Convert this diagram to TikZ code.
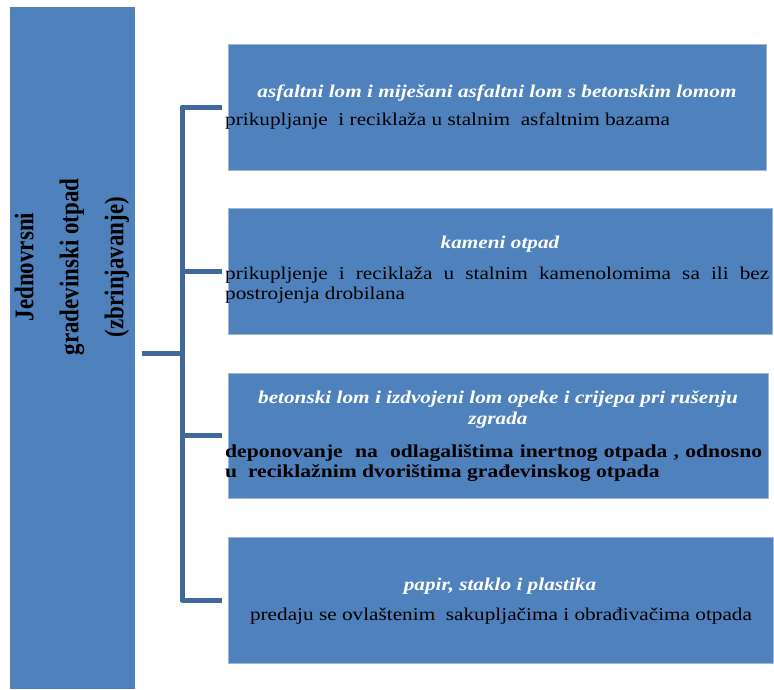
\documentclass[tikz,border=0pt]{standalone}
\usepackage{fontspec}
\setmainfont{Liberation Serif}[FakeStretch=1.18]
\newfontfamily\leftfont{Liberation Serif}[FakeStretch=0.85]
\definecolor{boxblue}{HTML}{4F81BD}
\definecolor{boxedge}{HTML}{9DB6D8}
\definecolor{brkblue}{HTML}{40689A}
\begin{document}
\begin{tikzpicture}[x=1pt,y=-1pt,
  rbox/.style={draw=boxedge, line width=0.8pt, fill=boxblue, inner sep=0pt, outer sep=0pt, anchor=north west},
  lbox/.style={fill=boxblue, inner sep=0pt, outer sep=0pt, anchor=north west},
  ttl/.style={text=white, font=\fontsize{18}{20}\selectfont\bfseries\itshape, anchor=base, inner sep=0pt},
  bdy/.style={text=black, font=\fontsize{18}{20}\selectfont, anchor=base west, inner sep=0pt},
  bdyc/.style={text=black, font=\fontsize{18}{20}\selectfont, anchor=base, inner sep=0pt},
  bdyb/.style={text=black, font=\fontsize{18.3}{20}\selectfont\bfseries, anchor=base west, inner sep=0pt},
  bracket/.style={draw=brkblue, line width=5pt, line cap=butt, line join=round}]
\useasboundingbox (0,0) rectangle (774,689);
\fill[white] (0,0) rectangle (774,689);

% left box
\node[lbox, minimum width=125pt, minimum height=682pt] (lb) at (10,7) {};
\node[rotate=90, align=center, inner sep=0pt, text=black,
      font=\leftfont\bfseries\fontsize{27}{45}\selectfont] (lt) at (72,267)
      {Jednovrsni\\gradevinski otpad\\(zbrinjavanje)};

% right boxes
\node[rbox, minimum width=538pt, minimum height=126pt] (b1) at (228,44) {};
\node[rbox, minimum width=544pt, minimum height=126pt] (b2) at (228,208) {};
\node[rbox, minimum width=540pt, minimum height=125pt] (b3) at (228,373) {};
\node[rbox, minimum width=545pt, minimum height=126pt] (b4) at (228,537) {};

% bracket
\coordinate (sL) at (142,353);
\coordinate (sR) at (182,353);
\draw[bracket] (sL) -- (sR);
\draw[bracket] ([xshift=-6pt]b1.west) -- ++(-40,0) |- ([xshift=-6pt]b4.west);
\draw[bracket] ([xshift=-6pt]b2.west) -- ++(-40,0);
\draw[bracket] ([xshift=-6pt]b3.west) -- ++(-40,0);

% box 1
\node[ttl] (t1) at (497,97) {asfaltni lom i miješani asfaltni lom s betonskim lomom};
\node[bdy] (p1) at (225,125) {prikupljanje\ \ i reciklaža u stalnim\ \ asfaltnim bazama};

% box 2
\node[ttl] (t2) at (500,248) {kameni otpad};
\node[bdy] (p2a) at (225,279) {\makebox[544pt][s]{prikupljenje i reciklaža u stalnim kamenolomima sa ili bez}};
\node[bdy] (p2b) at (225,299) {postrojenja drobilana};

% box 3
\node[ttl] (t3a) at (498,403) {betonski lom i izdvojeni lom opeke i crijepa pri rušenju};
\node[ttl] (t3b) at (498,424) {zgrada};
\node[bdyb] (p3a) at (225,457) {\makebox[537pt][s]{deponovanje\ \ na\ \ odlagalištima inertnog otpada , odnosno}};
\node[bdyb] (p3b) at (225,477) {u\ \ reciklažnim dvorištima građevinskog otpada};

% box 4
\node[ttl] (t4) at (500,590) {papir, staklo i plastika};
\node[bdyc] (p4) at (501,620) {predaju se ovlaštenim\ \ sakupljačima i obrađivačima otpada};
\end{tikzpicture}
\end{document}
